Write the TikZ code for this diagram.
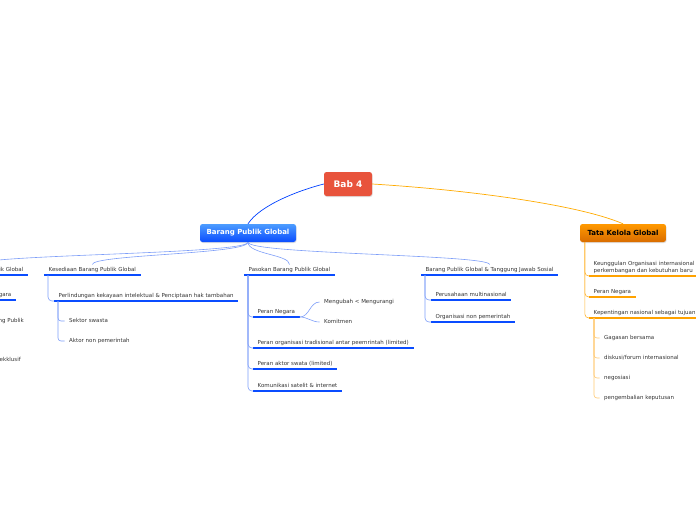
\documentclass[tikz,border=0pt]{standalone}
\usepackage{fontspec}
\setmainfont{DejaVu Sans}
\usetikzlibrary{shadows}
\definecolor{ulb}{HTML}{0A4CFF}\definecolor{lnb}{HTML}{7E9EF8}\definecolor{ulo}{HTML}{FFA200}\definecolor{lno}{HTML}{FFC870}
\definecolor{babred}{HTML}{E8533C}\definecolor{txt}{HTML}{333333}
\tikzset{x=1pt,y=-1pt,
  lbl/.style={font=\fontsize{5.5}{6.6}\selectfont,text=txt,inner xsep=4.5pt,inner ysep=2.3pt,text height=4.3pt,text depth=1.2pt},
  ub/.style={draw=ulb,line width=1.8pt},uo/.style={draw=ulo,line width=1.8pt},
  lb/.style={draw=lnb,line width=.6pt},lo/.style={draw=lno,line width=.6pt},
  topic/.style={rounded corners=2.5pt,font=\bfseries\fontsize{7}{8}\selectfont,minimum height=18pt,drop shadow={opacity=.25,shadow xshift=.6pt,shadow yshift=-1pt}}}
\begin{document}
\begin{tikzpicture}
\useasboundingbox(0,0)rectangle(696,520);\clip(0,0)rectangle(696,520);
\node[topic,fill=babred,text=white,minimum width=48pt,minimum height=24pt,font=\bfseries\fontsize{9}{10}\selectfont](bab)at(348,184){Bab 4};
\node[topic,top color=blue!55!cyan!70!white,bottom color=ulb,text=white,minimum width=96pt](bpg)at(248,233){Barang Publik Global};
\node[topic,top color=orange!80!yellow,bottom color=orange!85!black,text=black,minimum width=86pt](tkg)at(623,233){Tata Kelola Global};
\draw[draw=blue!75!cyan,line width=.7pt](bab.west)..controls(300,190)and(260,205)..(bpg.north);
\draw[draw=ulo!90!yellow,line width=.7pt](bab.east)..controls(470,190)and(580,205)..(tkg.north);
\node[lbl,anchor=south east](k1)at(28,275){Karakteristik Barang Publik Global};
\node[lbl,anchor=south west](k2)at(44,275){Kesediaan Barang Publik Global};
\node[lbl,anchor=south west](k3)at(244,275){Pasokan Barang Publik Global};
\node[lbl,anchor=south west](k4)at(421,275){Barang Publik Global \& Tanggung Jawab Sosial};
\foreach\k in{k1,k2,k3,k4}{\draw[ub](\k.south west)--(\k.south east);\draw[lb](bpg.south)..controls+(0,12)and+(0,-10)..(\k.north);}
\node[lbl,anchor=south east](a1)at(16,300){Peran Negara};
\node[lbl,anchor=east](a2)at(28.5,321){Penyediaan Barang Publik};\node[lbl,anchor=east](a3)at(25.5,360){Non-rival \& non-ekklusif};
\node[lbl,anchor=south west](b1)at(54,301){Perlindungan kekayaan intelektual \& Penciptaan hak tambahan};
\node[lbl,anchor=west](b2)at(64.5,321){Sektor swasta};\node[lbl,anchor=west](b3)at(64.5,341){Aktor non pemerintah};
\node[lbl,anchor=south west](c1)at(253,317){Peran Negara};
\node[lbl,anchor=south west](c2)at(253,348){Peran organisasi tradisional antar peemrintah (limited)};
\node[lbl,anchor=south west](c3)at(253,369){Peran aktor swata (limited)};
\node[lbl,anchor=south west](c4)at(253,391){Komunikasi satelit \& internet};
\node[lbl,anchor=west](c5)at(319.5,302){Mengubah < Mengurangi};\node[lbl,anchor=west](c6)at(319.5,322){Komitmen};
\node[lbl,anchor=south west](d1)at(431,300){Perusahaan multinasional};
\node[lbl,anchor=south west](d2)at(431,322){Organisasi non pemerintah};
\foreach\c/\p in{a1/k1,b1/k2,c1/k3,c2/k3,c3/k3,c4/k3,d1/k4,d2/k4}{\draw[ub](\c.south west)--(\c.south east);\draw[lb,rounded corners=4pt]([xshift=4pt]\p.south west)|-(\c.south west);}
\foreach\c/\p in{a2/a1,a3/a1,b2/b1,b3/b1}{\draw[lb,rounded corners=3pt]([xshift=4pt]\p.south west)|-(\c.west);}
\draw[lb](c1.south east)to[out=0,in=180](c5.west);\draw[lb](c1.south east)to[out=0,in=180](c6.west);
\node[lbl,anchor=south west,align=left,text height=,text depth=](t1)at(589,276){Keunggulan Organisasi internasional\\perkembangan dan kebutuhan baru};
\node[lbl,anchor=south west](t2)at(589,297){Peran Negara};
\node[lbl,anchor=south west](t3)at(589,318){Kepentingan nasional sebagai tujuan};
\node[lbl,anchor=west](t4)at(599.5,338){Gagasan bersama};\node[lbl,anchor=west](t5)at(599.5,358){diskusi/forum internasional};
\node[lbl,anchor=west](t6)at(599.5,378){negosiasi};\node[lbl,anchor=west](t7)at(599.5,398){pengembalian keputusan};
\foreach\t in{t1,t2,t3}{\draw[uo](\t.south west)--(\t.south east);\draw[lo,draw=ulo!80,rounded corners=4pt]([xshift=5pt]tkg.south west)|-(\t.south west);}
\foreach\t in{t4,t5,t6,t7}{\draw[lo,rounded corners=3pt]([xshift=5pt]t3.south west)|-(\t.west);}
\end{tikzpicture}
\end{document}
